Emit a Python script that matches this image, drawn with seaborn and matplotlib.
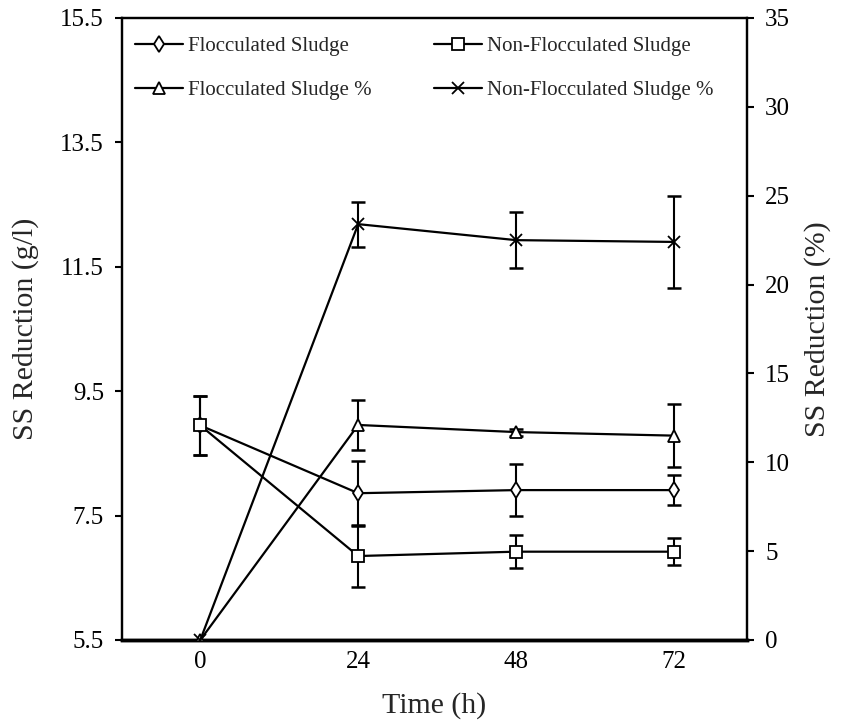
import matplotlib
matplotlib.use("Agg")
import matplotlib.pyplot as plt
import seaborn as sns
import pandas as pd
import numpy as np
from matplotlib.lines import Line2D

time_h = [0, 24, 48, 72]
floc = [8.95, 7.86, 7.91, 7.91]
floc_err = [0.47, 0.52, 0.42, 0.24]
nonfloc = [8.95, 6.85, 6.92, 6.92]
nonfloc_err = [0.47, 0.5, 0.27, 0.22]
floc_pct = [0.0, 12.1, 11.7, 11.5]
floc_pct_err = [0.0, 1.4, 0.2, 1.78]
nonfloc_pct = [0.0, 23.4, 22.5, 22.4]
nonfloc_pct_err = [0.0, 1.26, 1.56, 2.57]

left_ticks = [5.5, 7.5, 9.5, 11.5, 13.5, 15.5]
right_ticks = [0, 5, 10, 15, 20, 25, 30, 35]

sns.set_style("ticks")
plt.rcParams['font.family'] = ['Liberation Serif', 'DejaVu Serif']
plt.rcParams['mathtext.fontset'] = 'stix'

fig = plt.figure(figsize=(8.54, 7.22), dpi=100)
ax = fig.add_axes([122/854, 1 - 640/722, (747-122)/854, (640-18)/722])
ax2 = ax.twinx()

mk_kw = dict(markersize=8, markeredgewidth=1.3, markeredgecolor='black')

series = [
    (ax, floc, floc_err, 'd', "Flocculated Sludge"),
    (ax, nonfloc, nonfloc_err, 's', "Non-Flocculated Sludge"),
    (ax2, floc_pct, floc_pct_err, '^', "Flocculated Sludge %"),
    (ax2, nonfloc_pct, nonfloc_pct_err, 'x', "Non-Flocculated Sludge %"),
]

eb = dict(fmt='none', ecolor='black', elinewidth=1.5, capsize=5, capthick=1.8)
for a, vals, errs, m, name in series:
    df = pd.DataFrame({"t": time_h, "v": vals})
    extra = {} if m == 'x' else dict(markerfacecolor='white')
    sns.lineplot(data=df, x="t", y="v", color='black', marker=m, ax=a,
                 linewidth=1.6, legend=False, zorder=3, **mk_kw, **extra)
    idx = [i for i, e in enumerate(errs) if e > 0]
    a.errorbar([time_h[i] for i in idx], [vals[i] for i in idx],
               yerr=[errs[i] for i in idx], zorder=2, **eb)

ax.set_xlim(-11.9, 83.1)
ax.set_ylim(5.5, 15.5)
ax2.set_ylim(0, 35)
ax.set_xticks(time_h)
ax.set_yticks(left_ticks)
ax.set_yticklabels([f"{v:.1f}" for v in left_ticks])
ax2.set_yticks(right_ticks)

for a in (ax, ax2):
    for s in a.spines.values():
        s.set_linewidth(1.6)
        s.set_color('black')
    a.tick_params(labelsize=18, width=1.5, length=5, pad=8, direction='out', colors='black')
ax.spines['bottom'].set_linewidth(2.5)
ax2.spines['bottom'].set_linewidth(2.5)
ax.tick_params(axis='x', length=0, pad=8)

ax.set_xlabel("Time (h)", fontsize=21.5, labelpad=14)
ax.set_ylabel("SS Reduction (g/l)", fontsize=21.5, labelpad=15)
ax2.set_ylabel("SS Reduction (%)", fontsize=21.5, labelpad=10)

handles = [
    Line2D([], [], color='black', lw=1.6, marker='d', markerfacecolor='white', **mk_kw),
    Line2D([], [], color='black', lw=1.6, marker='^', markerfacecolor='white', **mk_kw),
    Line2D([], [], color='black', lw=1.6, marker='s', markerfacecolor='white', **mk_kw),
    Line2D([], [], color='black', lw=1.6, marker='x', **mk_kw),
]
labels = ["Flocculated Sludge", "Flocculated Sludge %",
          "Non-Flocculated Sludge", "Non-Flocculated Sludge %"]
ax2.legend(handles, labels, ncol=2, loc='upper left', bbox_to_anchor=(-0.0096, 1.0),
           frameon=False, fontsize=15, handlelength=2.3, handletextpad=0.25,
           columnspacing=3.0, labelspacing=1.15, borderaxespad=0.5)

fig.savefig("out.png", dpi=100)
